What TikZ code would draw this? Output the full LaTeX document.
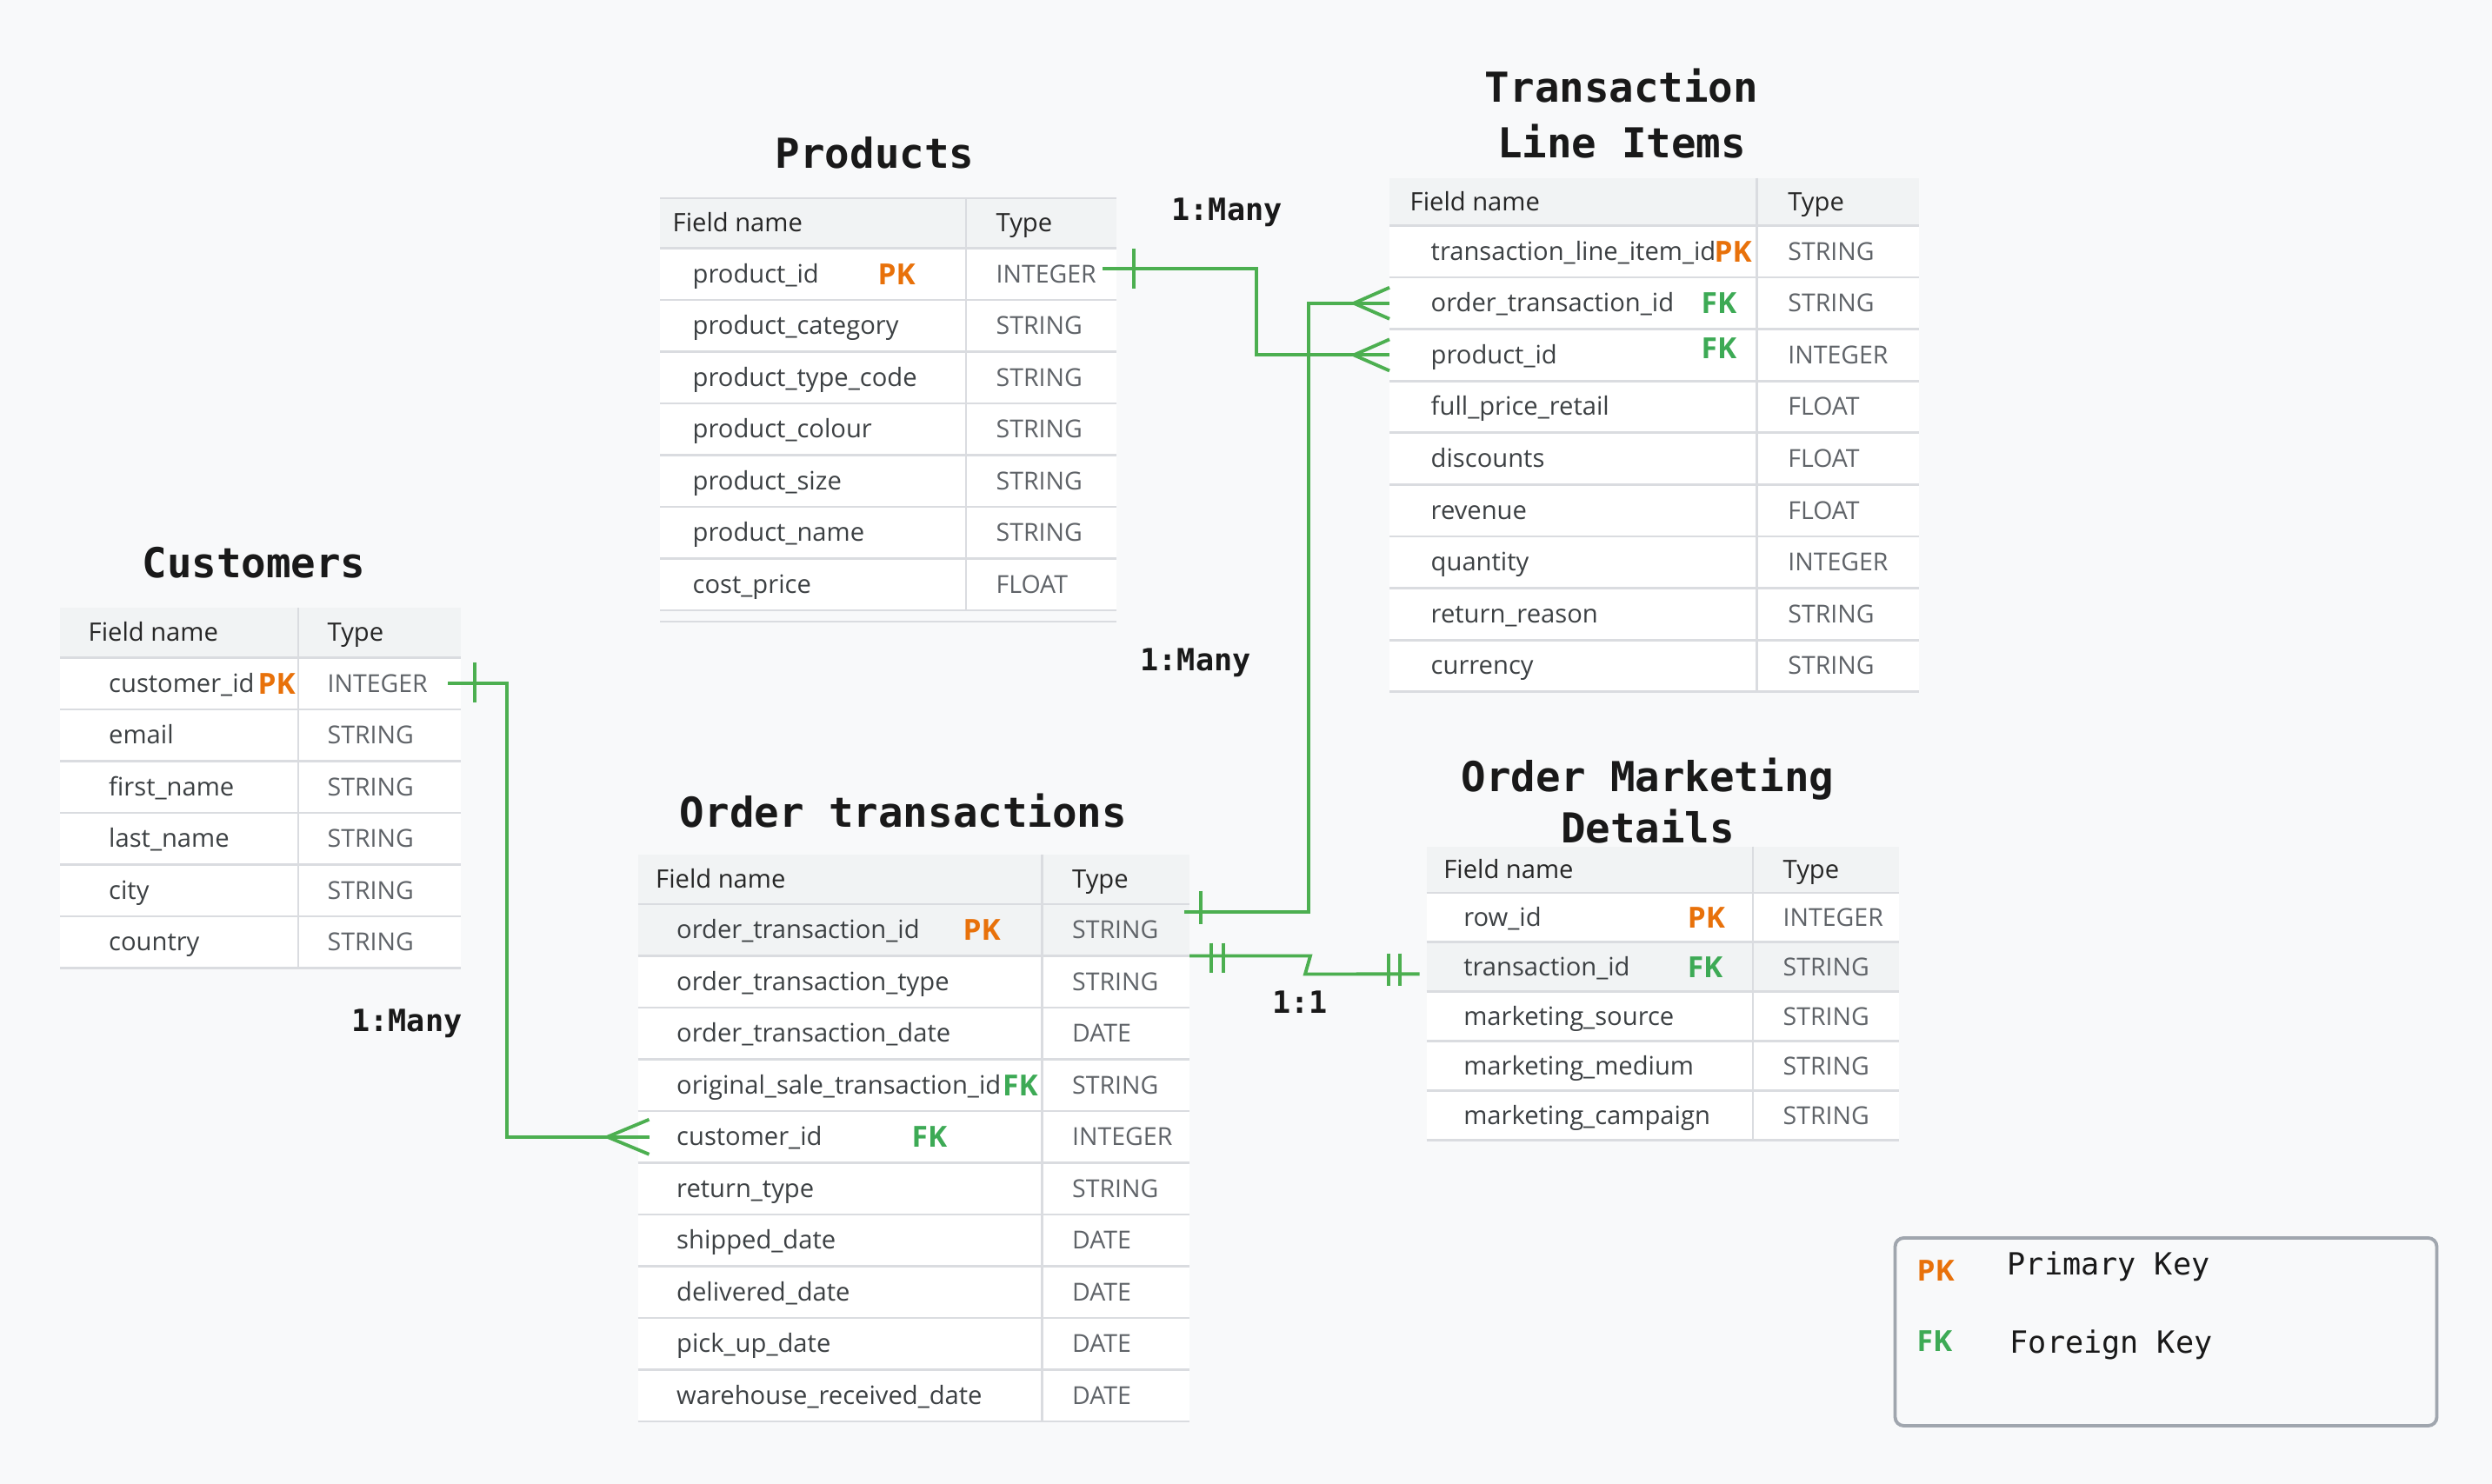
\documentclass[tikz,border=0pt]{standalone}
\usepackage{fontspec}
\setmainfont{Open Sans}
\newfontfamily\titlefont{DejaVu Sans Mono}
\usepackage{tikz}
\usetikzlibrary{positioning}
\definecolor{bgcolor}{HTML}{F8F9FA}
\definecolor{headgray}{HTML}{F1F3F4}
\definecolor{rowline}{HTML}{DADCE0}
\definecolor{relgreen}{HTML}{4CAF50}
\definecolor{pkorange}{HTML}{E8710A}
\definecolor{fkgreen}{HTML}{3DAA55}
\definecolor{typegray}{HTML}{5F6368}
\definecolor{fieldblack}{HTML}{3C4043}
\definecolor{legendgray}{HTML}{A0A6AE}
\tikzstyle{headcell} = [
    rectangle,
    fill = headgray,
    inner sep = 0pt,
    outer sep = 0pt,
    anchor = north west
]
\tikzstyle{rowcell} = [
    rectangle,
    fill = white,
    inner sep = 0pt,
    outer sep = 0pt
]
\tikzstyle{celltext} = [
    anchor = base west,
    yshift = -0.1cm,
    inner sep = 0pt,
    text = fieldblack,
    font = \fontsize{8.3}{10}\selectfont
]
\tikzstyle{headtext} = [celltext, text = black!85]
\tikzstyle{typetext} = [celltext, text = typegray, font = \fontsize{8.1}{10}\selectfont]
\tikzstyle{pk} = [
    anchor = west,
    inner sep = 0pt,
    text = pkorange,
    font = \fontsize{9.5}{11}\selectfont\bfseries
]
\tikzstyle{fk} = [pk, text = fkgreen]
\tikzstyle{tabletitle} = [
    align = center,
    text = black!90,
    font = \titlefont\bfseries\fontsize{13.5}{18.2}\selectfont
]
\tikzstyle{cardinality} = [text = black!90, font = \titlefont\bfseries\fontsize{10}{12}\selectfont]
\tikzstyle{legendtext} = [anchor = west, inner sep = 0pt, text = black!90, font = \titlefont\fontsize{10}{12}\selectfont]
\tikzstyle{relline} = [draw = relgreen, line width = 1.1pt]
\tikzstyle{sepline} = [draw = rowline, line width = 0.8pt]

\begin{document}
\begin{tikzpicture}

    \useasboundingbox (0,0) rectangle (28.66,-17.07);
    \fill[bgcolor] (0,0) rectangle (28.66,-17.07);

    % Customers
    \node[tabletitle] (custTitle) at (2.92,-6.47) {Customers};
    \node[headcell, minimum width = 2.74cm, minimum height = 0.575cm] (cust0) at (0.69,-6.99) {};
    \node[headcell, minimum width = 1.87cm, minimum height = 0.575cm, right = 0pt of cust0] (custT0) {};
    \node[headtext] (custHeadField) at ([xshift=0.32cm]cust0.west) {Field name};
    \node[headtext] (custHeadType) at ([xshift=0.33cm]custT0.west) {Type};
    \foreach \f/\t [count=\i] in {customer\_id/INTEGER, email/STRING, first\_name/STRING,
                                  last\_name/STRING, city/STRING, country/STRING} {
        \pgfmathtruncatemacro{\prev}{\i-1}
        \node[rowcell, minimum width = 2.74cm, minimum height = 0.595cm, below = 0pt of cust\prev] (cust\i) {};
        \node[rowcell, minimum width = 1.87cm, minimum height = 0.595cm, right = 0pt of cust\i] (custT\i) {};
        \node[celltext] (custF\i) at ([xshift=0.555cm]cust\i.west) {\f};
        \node[typetext] (custV\i) at ([xshift=0.33cm]custT\i.west) {\t};
        \draw[sepline] (cust\i.north west) -- (custT\i.north east);
    }
    \draw[sepline] (cust6.south west) -- (custT6.south east);
    \draw[sepline] (custT0.north west) -- (custT6.south west);
    \node[pk] (custPk) at ([xshift=2.27cm]cust1.west) {PK};

    % Products
    \node[tabletitle] (prodTitle) at (10.06,-1.755) {Products};
    \node[headcell, minimum width = 3.52cm, minimum height = 0.575cm] (prod0) at (7.59,-2.28) {};
    \node[headcell, minimum width = 1.73cm, minimum height = 0.575cm, right = 0pt of prod0] (prodT0) {};
    \node[headtext] (prodHeadField) at ([xshift=0.14cm]prod0.west) {Field name};
    \node[headtext] (prodHeadType) at ([xshift=0.34cm]prodT0.west) {Type};
    \foreach \f/\t [count=\i] in {product\_id/INTEGER, product\_category/STRING, product\_type\_code/STRING,
                                  product\_colour/STRING, product\_size/STRING, product\_name/STRING, cost\_price/FLOAT} {
        \pgfmathtruncatemacro{\prev}{\i-1}
        \node[rowcell, minimum width = 3.52cm, minimum height = 0.595cm, below = 0pt of prod\prev] (prod\i) {};
        \node[rowcell, minimum width = 1.73cm, minimum height = 0.595cm, right = 0pt of prod\i] (prodT\i) {};
        \node[celltext] (prodF\i) at ([xshift=0.37cm]prod\i.west) {\f};
        \node[typetext] (prodV\i) at ([xshift=0.34cm]prodT\i.west) {\t};
        \draw[sepline] (prod\i.north west) -- (prodT\i.north east);
    }
    \draw[sepline] (prod0.north west) -- (prodT0.north east);
    \draw[sepline] (prod7.south west) -- (prodT7.south east);
    \draw[sepline] ([yshift=-0.13cm]prod7.south west) -- ([yshift=-0.13cm]prodT7.south east);
    \draw[sepline] (prodT0.north west) -- (prodT7.south west);
    \node[pk] (prodPk) at ([xshift=2.5cm]prod1.west) {PK};

    % Transaction Line Items
    \node[tabletitle] (tliTitle) at (18.65,-1.305) {Transaction\\Line Items};
    \node[headcell, minimum width = 4.227cm, minimum height = 0.544cm] (tli0) at (15.98,-2.05) {};
    \node[headcell, minimum width = 1.863cm, minimum height = 0.544cm, right = 0pt of tli0] (tliT0) {};
    \node[headtext] (tliHeadField) at ([xshift=0.23cm]tli0.west) {Field name};
    \node[headtext] (tliHeadType) at ([xshift=0.35cm]tliT0.west) {Type};
    \foreach \f/\t [count=\i] in {transaction\_line\_item\_id/STRING, order\_transaction\_id/STRING, product\_id/INTEGER,
                                  full\_price\_retail/FLOAT, discounts/FLOAT, revenue/FLOAT, quantity/INTEGER,
                                  return\_reason/STRING, currency/STRING} {
        \pgfmathtruncatemacro{\prev}{\i-1}
        \node[rowcell, minimum width = 4.227cm, minimum height = 0.596cm, below = 0pt of tli\prev] (tli\i) {};
        \node[rowcell, minimum width = 1.863cm, minimum height = 0.596cm, right = 0pt of tli\i] (tliT\i) {};
        \node[celltext] (tliF\i) at ([xshift=0.47cm]tli\i.west) {\f};
        \node[typetext] (tliV\i) at ([xshift=0.35cm]tliT\i.west) {\t};
        \draw[sepline] (tli\i.north west) -- (tliT\i.north east);
    }
    \draw[sepline] (tli9.south west) -- (tliT9.south east);
    \draw[sepline] (tliT0.north west) -- (tliT9.south west);
    \node[pk] (tliPk) at ([xshift=3.73cm]tli1.west) {PK};
    \node[fk] (tliFkOrder) at ([xshift=3.58cm]tli2.west) {FK};
    \node[fk] (tliFkProd) at ([xshift=3.58cm,yshift=0.08cm]tli3.west) {FK};

    % Order transactions
    \node[tabletitle] (orderTitle) at (10.39,-9.33) {Order transactions};
    \node[headcell, minimum width = 4.65cm, minimum height = 0.57cm] (order0) at (7.335,-9.83) {};
    \node[headcell, minimum width = 1.695cm, minimum height = 0.57cm, right = 0pt of order0] (orderT0) {};
    \node[headtext] (orderHeadField) at ([xshift=0.2cm]order0.west) {Field name};
    \node[headtext] (orderHeadType) at ([xshift=0.34cm]orderT0.west) {Type};
    \foreach \f/\t [count=\i] in {order\_transaction\_id/STRING, order\_transaction\_type/STRING,
                                  order\_transaction\_date/DATE, original\_sale\_transaction\_id/STRING,
                                  customer\_id/INTEGER, return\_type/STRING, shipped\_date/DATE,
                                  delivered\_date/DATE, pick\_up\_date/DATE, warehouse\_received\_date/DATE} {
        \pgfmathtruncatemacro{\prev}{\i-1}
        \ifnum\i=1 \def\rowfill{headgray}\else\def\rowfill{white}\fi
        \node[rowcell, fill = \rowfill, minimum width = 4.65cm, minimum height = 0.595cm, below = 0pt of order\prev] (order\i) {};
        \node[rowcell, fill = \rowfill, minimum width = 1.695cm, minimum height = 0.595cm, right = 0pt of order\i] (orderT\i) {};
        \node[celltext] (orderF\i) at ([xshift=0.44cm]order\i.west) {\f};
        \node[typetext] (orderV\i) at ([xshift=0.34cm]orderT\i.west) {\t};
        \draw[sepline] (order\i.north west) -- (orderT\i.north east);
    }
    \draw[sepline] (order10.south west) -- (orderT10.south east);
    \draw[sepline] (orderT0.north west) -- (orderT10.south west);
    \node[pk] (orderPk) at ([xshift=3.735cm]order1.west) {PK};
    \node[fk] (orderFkSale) at ([xshift=4.19cm]order4.west) {FK};
    \node[fk] (orderFkCust) at ([xshift=3.145cm]order5.west) {FK};

    % Order Marketing Details
    \node[tabletitle, font = \titlefont\bfseries\fontsize{13.5}{16.8}\selectfont] (omdTitle) at (18.95,-9.21) {Order Marketing\\Details};
    \node[headcell, minimum width = 3.754cm, minimum height = 0.533cm] (omd0) at (16.406,-9.737) {};
    \node[headcell, minimum width = 1.675cm, minimum height = 0.533cm, right = 0pt of omd0] (omdT0) {};
    \node[headtext] (omdHeadField) at ([xshift=0.19cm]omd0.west) {Field name};
    \node[headtext] (omdHeadType) at ([xshift=0.34cm]omdT0.west) {Type};
    \foreach \f/\t [count=\i] in {row\_id/INTEGER, transaction\_id/STRING, marketing\_source/STRING,
                                  marketing\_medium/STRING, marketing\_campaign/STRING} {
        \pgfmathtruncatemacro{\prev}{\i-1}
        \ifnum\i=2 \def\rowfill{headgray}\else\def\rowfill{white}\fi
        \node[rowcell, fill = \rowfill, minimum width = 3.754cm, minimum height = 0.569cm, below = 0pt of omd\prev] (omd\i) {};
        \node[rowcell, fill = \rowfill, minimum width = 1.675cm, minimum height = 0.569cm, right = 0pt of omd\i] (omdT\i) {};
        \node[celltext] (omdF\i) at ([xshift=0.42cm]omd\i.west) {\f};
        \node[typetext] (omdV\i) at ([xshift=0.34cm]omdT\i.west) {\t};
        \draw[sepline] (omd\i.north west) -- (omdT\i.north east);
    }
    \draw[sepline] (omd5.south west) -- (omdT5.south east);
    \draw[sepline] (omdT0.north west) -- (omdT5.south west);
    \node[pk] (omdPk) at ([xshift=2.995cm]omd1.west) {PK};
    \node[fk] (omdFk) at ([xshift=2.995cm]omd2.west) {FK};

    % Products 1:Many Transaction Line Items
    \draw[relline] ([xshift=-0.16cm,yshift=0.06cm]prodT1.east) -- ++(1.77,0) |- (tli3.west);
    \draw[relline] ([xshift=0.2cm,yshift=0.29cm]prodT1.east) -- ([xshift=0.2cm,yshift=-0.17cm]prodT1.east);
    \draw[relline] ([yshift=0.18cm]tli3.west) -- ([xshift=-0.41cm]tli3.west) -- ([yshift=-0.18cm]tli3.west);
    \node[cardinality] (relProdTli) at (14.11,-2.44) {1:Many};

    % Order transactions 1:Many Transaction Line Items
    \draw[relline] ([xshift=-0.06cm,yshift=0.21cm]orderT1.east) -- ++(1.43,0) |- (tli2.west);
    \draw[relline] ([xshift=0.13cm,yshift=0.45cm]orderT1.east) -- ([xshift=0.13cm,yshift=0.07cm]orderT1.east);
    \draw[relline] ([yshift=0.18cm]tli2.west) -- ([xshift=-0.41cm]tli2.west) -- ([yshift=-0.18cm]tli2.west);
    \node[cardinality] (relOrderTli) at (13.75,-7.62) {1:Many};

    % Order transactions 1:1 Order Marketing Details
    \draw[relline] (orderT2.north east) -- ++(1.39,0) -- ++(-0.06,-0.21) -- ([xshift=-0.08cm,yshift=-0.08cm]omd2.west);
    \draw[relline] ([xshift=0.25cm,yshift=0.15cm]orderT2.north east) -- ([xshift=0.25cm,yshift=-0.19cm]orderT2.north east);
    \draw[relline] ([xshift=0.387cm,yshift=0.15cm]orderT2.north east) -- ([xshift=0.387cm,yshift=-0.19cm]orderT2.north east);
    \draw[relline] ([xshift=-0.44cm,yshift=0.156cm]omd2.west) -- ([xshift=-0.44cm,yshift=-0.214cm]omd2.west);
    \draw[relline] ([xshift=-0.306cm,yshift=0.156cm]omd2.west) -- ([xshift=-0.306cm,yshift=-0.214cm]omd2.west);
    \node[cardinality] (relOrderOmd) at (14.95,-11.53) {1:1};

    % Customers 1:Many Order transactions
    \draw[relline] ([xshift=-0.15cm]custT1.east) -- ++(0.68,0) |- ([xshift=0.13cm]order5.west);
    \draw[relline] ([xshift=0.16cm,yshift=0.24cm]custT1.east) -- ([xshift=0.16cm,yshift=-0.22cm]custT1.east);
    \draw[relline] ([xshift=0.13cm,yshift=0.2cm]order5.west) -- ([xshift=-0.35cm]order5.west) -- ([xshift=0.13cm,yshift=-0.2cm]order5.west);
    \node[cardinality] (relCustOrder) at (4.68,-11.77) {1:Many};

    % Legend
    \node[draw = legendgray, line width = 1.1pt, rounded corners = 0.1cm, fill = bgcolor,
          minimum width = 6.23cm, minimum height = 2.16cm] (legendBox) at (24.91,-15.32) {};
    \node[pk] (legendPk) at (22.04,-14.617) {PK};
    \node[legendtext] (legendPkText) at (23.08,-14.567) {Primary Key};
    \node[fk] (legendFk) at (22.04,-15.427) {FK};
    \node[legendtext] (legendFkText) at (23.11,-15.467) {Foreign Key};

\end{tikzpicture}
\end{document}
